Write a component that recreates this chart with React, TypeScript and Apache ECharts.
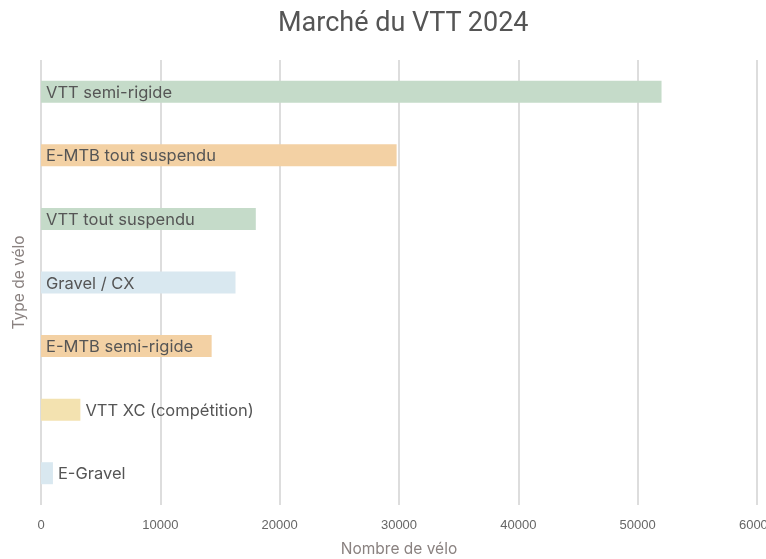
import React, { useEffect, useRef } from "react";
import * as echarts from "echarts";

const categories = [
  "E-Gravel",
  "VTT XC (compétition)",
  "E-MTB semi-rigide",
  "Gravel / CX",
  "VTT tout suspendu",
  "E-MTB tout suspendu",
  "VTT semi-rigide",
];
const values = [1000, 3300, 14300, 16300, 18000, 29800, 52000];
const colors = ["#d9e8f0", "#f3e2b0", "#f3d1a4", "#d9e8f0", "#c5dbc9", "#f3d1a4", "#c5dbc9"];
const xTicks = [0, 10000, 20000, 30000, 40000, 50000, 60000];

const FONT = "Inter, 'Noto Sans', sans-serif";

export default function App() {
  const ref = useRef<HTMLDivElement>(null);
  useEffect(() => {
    if (!ref.current) return;
    const chart = echarts.init(ref.current, null, { renderer: "svg" });
    chart.setOption({
      animation: false,
      textStyle: { fontFamily: FONT },
      title: {
        text: "Marché du VTT 2024",
        left: 273,
        top: 3,
        textStyle: { fontFamily: "Roboto, sans-serif", fontSize: 27, fontWeight: "normal", color: "#555555" },
      },
      grid: {
        left: 41,
        right: 9,
        top: 60,
        bottom: 54,
        containLabel: false,
        outerBoundsMode: "none",
      },
      xAxis: {
        type: "value",
        min: xTicks[0],
        max: xTicks[xTicks.length - 1],
        interval: 10000,
        name: "Nombre de vélo",
        nameLocation: "middle",
        nameGap: 35,
        nameTextStyle: { fontFamily: FONT, fontSize: 15.5, color: "#8a8280" },
        axisLine: { show: false },
        axisTick: { show: false },
        axisLabel: {
          fontFamily: "'Liberation Sans', Arial, sans-serif",
          fontSize: 13,
          color: "#666666",
          margin: 13,
          formatter: (v: number) => String(v),
        },
        splitLine: { show: true, lineStyle: { color: "#dddddd", width: 2 } },
      },
      yAxis: {
        type: "category",
        data: categories,
        name: "Type de vélo",
        nameLocation: "middle",
        nameGap: 15,
        nameTextStyle: { fontFamily: FONT, fontSize: 15.5, color: "#8a8280" },
        axisLine: { show: false },
        axisTick: { show: false },
        axisLabel: { show: false },
        splitLine: { show: false },
      },
      series: [
        {
          type: "bar",
          barWidth: 22,
          data: values.map((v, i) => {
            const inside = v > 10000;
            return {
              value: v,
              itemStyle: { color: colors[i] },
              label: {
                show: true,
                position: inside ? "insideLeft" : "right",
                distance: 5,
                formatter: categories[i],
                fontFamily: FONT,
                fontSize: 16.5,
                color: "#555555",
              },
            };
          }),
        },
      ],
    });
    return () => chart.dispose();
  }, []);
  return (
    <div
      ref={ref}
      style={{ position: "fixed", left: 0, top: 0, width: 766, height: 559 }}
    />
  );
}
